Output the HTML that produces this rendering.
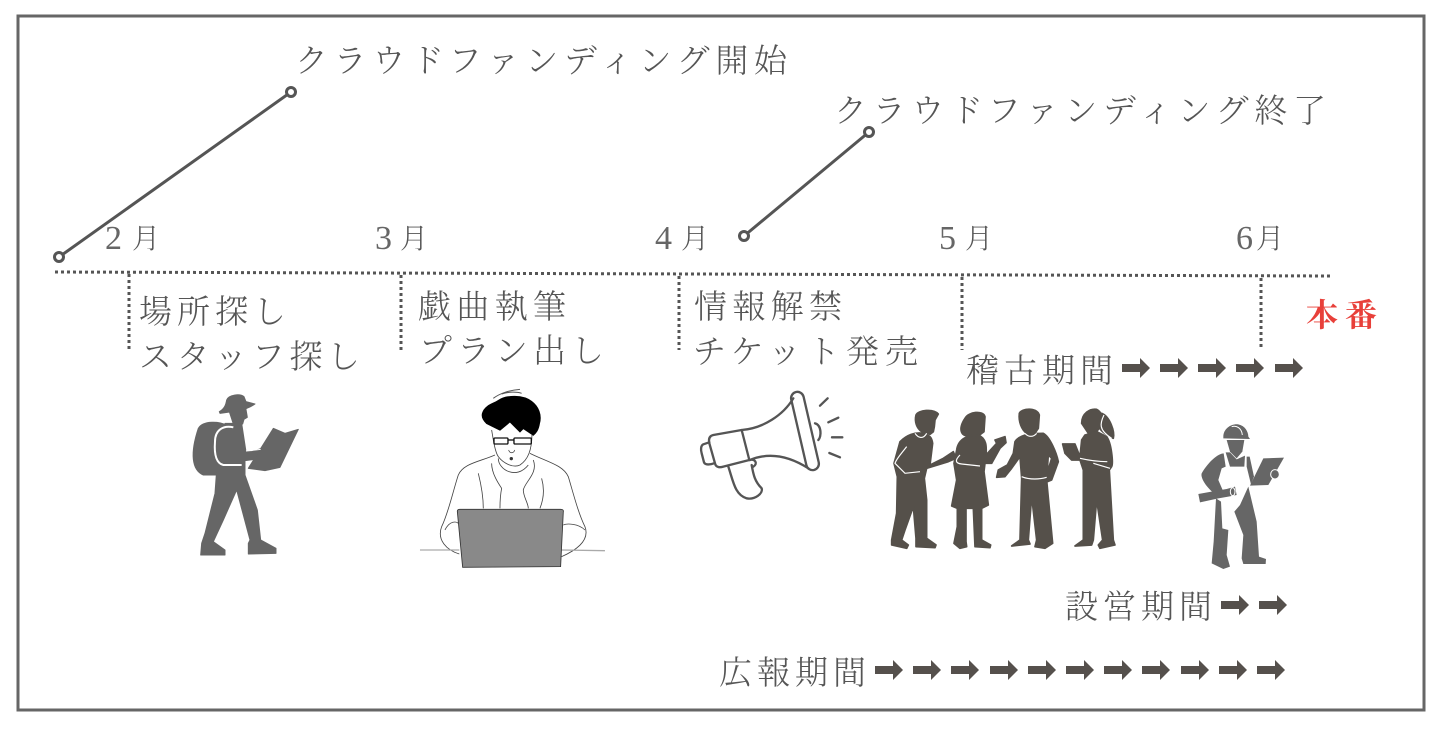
<!DOCTYPE html>
<html><head><meta charset="utf-8"><style>
html,body{margin:0;padding:0;background:#fff;width:1446px;height:730px;overflow:hidden}
svg{display:block}
text{font-family:"Noto Serif CJK JP","Noto Serif CJK SC",serif;font-weight:300;fill:#555}
text.d{font-family:"Liberation Serif",serif;font-weight:400;fill:#666}
</style></head><body>
<svg width="1446" height="730" viewBox="0 0 1446 730" xmlns="http://www.w3.org/2000/svg">
<defs>
<path id="a" d="M0,-4H18V-10L28,0L18,10V4H0Z" fill="#55504c"/>
</defs>
<rect x="18" y="16" width="1406" height="694" fill="#fff" stroke="#666" stroke-width="3"/>

<g stroke="#555" stroke-width="3" fill="none" stroke-dasharray="3 3">
<path d="M55,272L1331,276"/>
<path d="M129,274V350M401,275V350M679,276V350M962,277V350M1261,278V350"/>
</g>

<g stroke="#555" stroke-width="3" fill="#fff">
<path d="M59,257L291,92M744,236L869,132"/>
<circle cx="59" cy="257" r="4.5"/><circle cx="291" cy="92" r="4.5"/>
<circle cx="744" cy="236" r="4.5"/><circle cx="869" cy="132" r="4.5"/>
</g>

<g>
<text x="295" y="72" font-size="33" textLength="492" lengthAdjust="spacing">クラウドファンディング開始</text>
<text x="834" y="122" font-size="33" textLength="492" lengthAdjust="spacing">クラウドファンディング終了</text>
<text class="d" x="105" y="249" font-size="34">2</text><text x="132" y="248" font-size="28">月</text>
<text class="d" x="375" y="249" font-size="34">3</text><text x="400" y="248" font-size="28">月</text>
<text class="d" x="655" y="249" font-size="34">4</text><text x="681" y="248" font-size="28">月</text>
<text class="d" x="939" y="249" font-size="34">5</text><text x="965" y="248" font-size="28">月</text>
<text class="d" x="1236" y="249" font-size="34">6</text><text x="1256" y="248" font-size="28">月</text>
<text x="139" y="323" font-size="33" textLength="147" lengthAdjust="spacing">場所探し</text>
<text x="139" y="368" font-size="33" textLength="221" lengthAdjust="spacing">スタッフ探し</text>
<text x="418" y="318" font-size="33" textLength="148" lengthAdjust="spacing">戯曲執筆</text>
<text x="419" y="362" font-size="33" textLength="185" lengthAdjust="spacing">プラン出し</text>
<text x="694" y="318" font-size="33" textLength="148" lengthAdjust="spacing">情報解禁</text>
<text x="693" y="363" font-size="33" textLength="225" lengthAdjust="spacing">チケット発売</text>
<text x="966" y="382" font-size="33" textLength="147" lengthAdjust="spacing">稽古期間</text>
<text x="1065" y="618" font-size="33" textLength="147" lengthAdjust="spacing">設営期間</text>
<text x="719" y="684" font-size="33" textLength="147" lengthAdjust="spacing">広報期間</text>
<text x="1306" y="326" font-size="32" textLength="71" lengthAdjust="spacing" style="fill:#e8403a;font-weight:700">本番</text>
</g>

<g>
<use href="#a" x="1122" y="368"/><use href="#a" x="1160" y="368"/><use href="#a" x="1198" y="368"/><use href="#a" x="1236" y="368"/><use href="#a" x="1275" y="368"/>
<use href="#a" x="1221" y="605"/><use href="#a" x="1259" y="605"/>
<use href="#a" x="875" y="670"/><use href="#a" x="913" y="670"/><use href="#a" x="951" y="670"/><use href="#a" x="990" y="670"/><use href="#a" x="1028" y="670"/><use href="#a" x="1066" y="670"/><use href="#a" x="1104" y="670"/><use href="#a" x="1142" y="670"/><use href="#a" x="1181" y="670"/><use href="#a" x="1219" y="670"/><use href="#a" x="1257" y="670"/>
</g>

<!-- hiker and laptop person -->
<g transform="translate(170,380) scale(.3333)">
<g fill="#666" stroke="#666" stroke-width="3" stroke-linejoin="round">
<path d="M148,95C165,85 168,72 170,60C176,44 210,40 222,50L228,65L255,72C240,82 226,86 222,90L150,100Z"/>
<path d="M178,95L228,88L232,112L222,118L218,132L190,132Z"/>
<path d="M85,145C100,120 150,125 168,135L145,285L100,285C65,270 60,220 85,145Z"/>
<path d="M165,130L215,130L228,215L245,215L275,205L280,235L225,242L225,285L262,390L272,480L318,505L318,520L235,522L235,490L240,480L200,330L160,420L130,485L165,510L165,525L92,525L95,490L105,460L135,340L140,270Z"/>
<path d="M235,265L310,145L345,160L385,148L330,262L285,272Z"/>
</g>
<path d="M190,142C160,135 135,150 135,185C132,225 140,250 160,255L215,255" fill="none" stroke="#fff" stroke-width="6"/>
<path d="M228,213L272,208" fill="none" stroke="#fff" stroke-width="3"/>

<g fill="none" stroke="#444" stroke-width="2.5">
<path d="M975,225C930,245 880,250 865,285C850,330 835,400 815,440C800,480 830,510 868,522"/>
<path d="M1080,220C1130,245 1180,255 1195,290C1210,340 1225,400 1245,440C1260,480 1220,510 1175,530"/>
<path d="M985,235C985,270 1040,300 1075,255"/>
<path d="M965,250C965,280 985,310 995,325C990,350 990,370 990,385"/>
<path d="M1090,240C1105,280 1065,305 1060,330C1060,350 1075,370 1075,385"/>
<path d="M925,280C935,320 940,360 940,385M1115,295C1125,330 1120,360 1110,385"/>
<path d="M825,450C840,420 860,425 865,430M1245,450C1225,430 1190,430 1180,435"/>
<path d="M965,150C970,180 975,215 985,230C1000,250 1030,265 1050,255C1075,238 1085,210 1086,165"/>
</g>
<path d="M938,100C945,75 975,70 985,62C1010,45 1060,45 1085,65C1105,80 1115,105 1108,130C1105,150 1098,158 1090,165L1060,145L1050,155L1020,125L990,150L970,140L950,130C940,120 935,110 938,100Z" fill="#000" stroke="#000" stroke-width="4"/>
<path d="M970,55C990,40 1020,30 1050,28M995,42C1015,35 1040,35 1055,40" fill="none" stroke="#555" stroke-width="3"/>
<g fill="none" stroke="#111" stroke-width="4">
<rect x="972" y="174" width="42" height="18" rx="3"/><rect x="1032" y="174" width="52" height="18" rx="3"/>
<path d="M1014,180H1032"/>
</g>
<path d="M1016,210C1020,222 1032,220 1034,210" fill="none" stroke="#333" stroke-width="2"/>
<ellipse cx="1024" cy="236" rx="5" ry="5" fill="#333"/>
<path d="M750,510H868M1175,510L1305,512" stroke="#aaa" stroke-width="4" fill="none"/>
<path d="M862,394Q862,388 870,388H1172Q1182,388 1180,396L1172,560L878,562Z" fill="#898989" stroke="#333" stroke-width="2.5"/>
</g>

<!-- megaphone -->
<g transform="translate(690,385) scale(.3333)" fill="none" stroke="#555" stroke-width="7" stroke-linecap="round" stroke-linejoin="round">
<path d="M375,115C395,120 395,155 385,165"/>
<rect x="326" y="18" width="38" height="240" rx="19" transform="rotate(-13 345 138)" fill="#fff"/>
<path d="M155,135C220,130 280,90 310,40"/>
<path d="M180,225C240,200 300,215 355,250"/>
<path d="M155,135L70,150C60,152 55,160 58,175L75,235C78,248 90,248 100,245L178,225Z"/>
<path d="M58,172L40,178C32,182 32,195 35,205L42,232C45,240 60,240 72,235"/>
<path d="M115,245C130,290 135,330 170,340C195,345 220,325 215,310C195,290 190,270 185,240"/>
<path d="M178,225C195,220 205,235 190,245"/>
<path d="M390,62L413,40M415,112L445,98M426,157L457,157M418,204L450,217"/>
</g>

<!-- group -->
<g transform="translate(880,400) scale(.3333)">
<g fill="#55504a" stroke="#55504a" stroke-width="5" stroke-linejoin="round">
<path d="M108,45C115,30 160,25 175,42L165,60L163,80L160,95L150,103L125,95C110,85 103,65 108,45Z"/>
<path d="M60,125C80,105 105,95 130,100C150,108 155,110 158,130L150,195L190,175L220,155L228,175L205,185L140,205L133,235L140,300L140,415L168,435L165,443L108,440L108,415L100,320L75,390L65,420L85,435L80,445L35,435L35,420L50,340L52,230L42,190Z"/>
<path d="M255,55C265,35 310,30 315,50L312,95L295,108L270,108C240,110 235,85 255,55Z"/>
<path d="M230,150C235,115 265,105 295,105C320,115 320,140 318,165L350,130L345,120L375,110L378,128L360,145L335,190L315,190L312,215L325,315L305,325L305,420L332,435L330,443L285,440L280,325L258,325L258,425L260,440L240,445L222,430L232,380L232,325L215,318L230,240L222,190Z"/>
<path d="M418,40C425,25 470,20 478,45L475,85L465,100L440,100C425,90 415,65 418,40Z"/>
<path d="M405,125C420,100 470,100 490,100C510,110 530,160 535,185L515,240L490,250L495,240L515,175L505,165L500,240L518,430L495,445L465,440L470,420L455,290L445,420L450,432L395,438L420,420L425,235L420,170L395,205L375,230L350,232L355,210L382,195L400,160Z"/>
<path d="M605,70C605,40 630,25 650,28C665,35 668,50 665,75L650,95L625,100Z"/>
<path d="M665,40C690,50 705,95 700,115C680,105 655,90 660,80Z"/>
<path d="M615,105L650,95L680,110C695,130 700,190 695,200L688,210L700,420L705,435L660,445L655,435L668,420L650,300L640,420L635,435L585,438L610,420L610,210L600,180L575,180L555,160L548,132L585,132L600,170L605,120Z"/>
</g>
<g fill="none" stroke="#fff" stroke-width="3.5">
<path d="M80,140C65,160 50,175 45,190L75,220L120,215"/>
<path d="M105,100C115,115 130,118 140,100"/>
<path d="M240,165C225,180 225,190 245,192L300,198"/>
<path d="M425,230C450,240 480,238 500,232"/>
<path d="M435,100C445,112 460,112 470,100"/>
<path d="M600,175C630,182 665,185 682,185M640,190L690,205"/>
<path d="M672,45C660,70 655,90 695,115"/>
</g>
</g>

<!-- worker -->
<g transform="translate(1185,415) scale(.3333)" fill="#666">
<path d="M115,65C115,40 140,25 160,28C180,32 190,50 190,65L195,72L115,70Z"/>
<path d="M140,35C155,30 170,40 172,60" fill="none" stroke="#fff" stroke-width="3"/>
<path d="M125,75L178,75L172,110L155,130L135,110Z"/>
<path d="M116,115C100,115 70,140 50,175C45,190 70,225 95,240L115,230L100,195L110,160L122,155Z"/>
<path d="M122,112L135,155L178,155L180,122L155,133L135,112Z"/>
<path d="M185,125L194,125L207,185L198,208L185,155Z"/>
<path d="M235,130L297,128L250,210L195,212Z"/>
<path d="M93,250L108,260L112,340L130,345L125,420L135,455L115,462L80,445L86,380Z"/>
<path d="M190,215L215,320L222,425L243,432L242,447L175,447L170,430L175,360L148,290L165,270Z"/>
<path d="M40,237L90,228L125,222L150,215L155,240L130,245L100,250L45,262Z"/>
<ellipse cx="143" cy="230" rx="7" ry="12" fill="#666" stroke="#fff" stroke-width="3"/>
<ellipse cx="270" cy="178" rx="13" ry="14" stroke="#fff" stroke-width="3"/>
</g>
</svg>
</body></html>
